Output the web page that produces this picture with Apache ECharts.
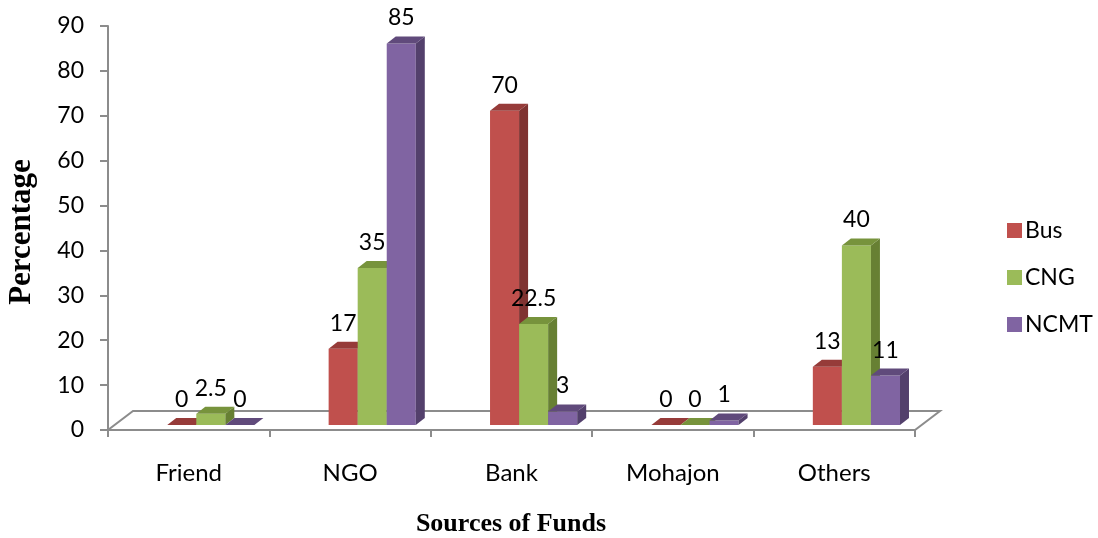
<!DOCTYPE html>
<html>
<head>
<meta charset="utf-8">
<script src="https://cdn.jsdelivr.net/npm/echarts@6/dist/echarts.min.js"></script>
<style>
  html, body { margin: 0; padding: 0; background: #fff; }
  #chart { width: 1098px; height: 538px; }
</style>
</head>
<body>
<div id="chart"></div>
<script>
// ---- data ----
const categories = ['Friend', 'NGO', 'Bank', 'Mohajon', 'Others'];
const seriesNames = ['Bus', 'CNG', 'NCMT'];
const busValues = [0, 17, 70, 0, 13];
const cngValues = [2.5, 35, 22.5, 0, 40];
const ncmtValues = [0, 85, 3, 1, 11];
const yTicks = { min: 0, max: 90, interval: 10 };

// ---- styling ----
const faceColors = [
  { front: '#C0504D', top: '#963B39', side: '#7F3331' },
  { front: '#9BBB59', top: '#77933C', side: '#678033' },
  { front: '#8064A2', top: '#604A7B', side: '#53406C' }
];
const DX = 9, DY = -7;         // bar depth
const FDX = 25, FDY = -19;     // floor depth
const BASE_SHIFT = -5;         // bars sit slightly back on the floor
const AXIS_GRAY = '#8C8C8C';
const LABEL_FONT = 'Lato';

const allValues = [busValues, cngValues, ncmtValues];

function makeBarRender(sIdx) {
  return function (params, api) {
    const ci = api.value(0);
    const v = api.value(1);
    const base = api.coord([ci, 0]);
    const topP = api.coord([ci, v]);
    const band = api.size([1, 0])[0];
    const bw = band * 0.18;
    const x0 = base[0] + band * 0.137 - 1.5 * bw + sIdx * bw;
    const x1 = x0 + bw;
    const yB = base[1] + BASE_SHIFT;
    const yT = topP[1] + BASE_SHIFT;
    const c = faceColors[sIdx];
    const children = [];
    if (yB - yT > 0.5) {
      children.push({ type: 'polygon', shape: { points: [[x0, yT], [x1, yT], [x1, yB], [x0, yB]] }, style: { fill: c.front } });
      children.push({ type: 'polygon', shape: { points: [[x1, yT], [x1, yB], [x1 + DX, yB + DY], [x1 + DX, yT + DY]] }, style: { fill: c.side } });
    }
    children.push({ type: 'polygon', shape: { points: [[x0, yT], [x1, yT], [x1 + DX, yT + DY], [x0 + DX, yT + DY]] }, style: { fill: c.top } });
    children.push({
      type: 'text',
      style: {
        text: String(allValues[sIdx][ci]),
        x: (x0 + x1) / 2, y: yT + DY - 7,
        align: 'center', verticalAlign: 'bottom',
        fontSize: 23, fontFamily: LABEL_FONT, fill: '#000'
      }
    });
    return { type: 'group', children: children };
  };
}

function floorRender(params, api) {
  const band = api.size([1, 0])[0];
  const l = api.coord([0, 0]);
  const r = api.coord([categories.length - 1, 0]);
  const L = l[0] - band / 2, R = r[0] + band / 2, y0 = l[1];
  return {
    type: 'polygon',
    shape: { points: [[L, y0], [R, y0], [R + FDX, y0 + FDY], [L + FDX, y0 + FDY]] },
    style: { fill: '#fff', stroke: AXIS_GRAY, lineWidth: 2 }
  };
}

const chart = echarts.init(document.getElementById('chart'), null, { renderer: 'canvas' });

const series = [{
  type: 'custom', name: '_floor', z: 1, silent: true,
  renderItem: floorRender, data: [[0, 0]], encode: { x: 0, y: 1 }
}];
seriesNames.forEach(function (name, i) {
  series.push({
    type: 'custom', name: name, z: 3,
    itemStyle: { color: faceColors[i].front },
    renderItem: makeBarRender(i),
    data: allValues[i].map(function (v, k) { return [k, v]; }),
    encode: { x: 0, y: 1 }
  });
});

chart.setOption({
  animation: false,
  backgroundColor: '#fff',
  grid: { left: 108, right: 183, top: 26, bottom: 108, containLabel: false },
  legend: {
    orient: 'vertical', left: 1002, top: 214,
    data: seriesNames,
    icon: 'rect', itemWidth: 15, itemHeight: 15, itemGap: 24,
    textStyle: { fontSize: 23, fontFamily: LABEL_FONT, color: '#000', padding: [0, 0, 0, -2] }
  },
  xAxis: {
    type: 'category', data: categories,
    axisLine: { show: true, lineStyle: { color: AXIS_GRAY, width: 2 } },
    axisTick: { show: true, length: 7, lineStyle: { color: AXIS_GRAY, width: 2 } },
    axisLabel: { margin: 31, fontSize: 24, fontFamily: LABEL_FONT, color: '#000' },
    splitLine: { show: false }
  },
  yAxis: {
    type: 'value', min: yTicks.min, max: yTicks.max, interval: yTicks.interval,
    axisLine: { show: true, lineStyle: { color: AXIS_GRAY, width: 2 } },
    axisTick: { show: true, length: 8, lineStyle: { color: AXIS_GRAY, width: 2 } },
    axisLabel: { margin: 24, fontSize: 23, fontFamily: LABEL_FONT, color: '#000' },
    splitLine: { show: false }
  },
  graphic: [
    {
      type: 'text', x: 22, y: 232, rotation: Math.PI / 2,
      style: { text: 'Percentage', align: 'center', verticalAlign: 'middle',
        fontSize: 31, fontWeight: 'bold', fontFamily: 'Liberation Serif', fill: '#000' }
    },
    {
      type: 'text', x: 511, y: 524,
      style: { text: 'Sources of Funds', align: 'center', verticalAlign: 'middle',
        fontSize: 26, fontWeight: 'bold', fontFamily: 'Liberation Serif', fill: '#000' }
    }
  ],
  series: series
});
</script>
</body>
</html>
